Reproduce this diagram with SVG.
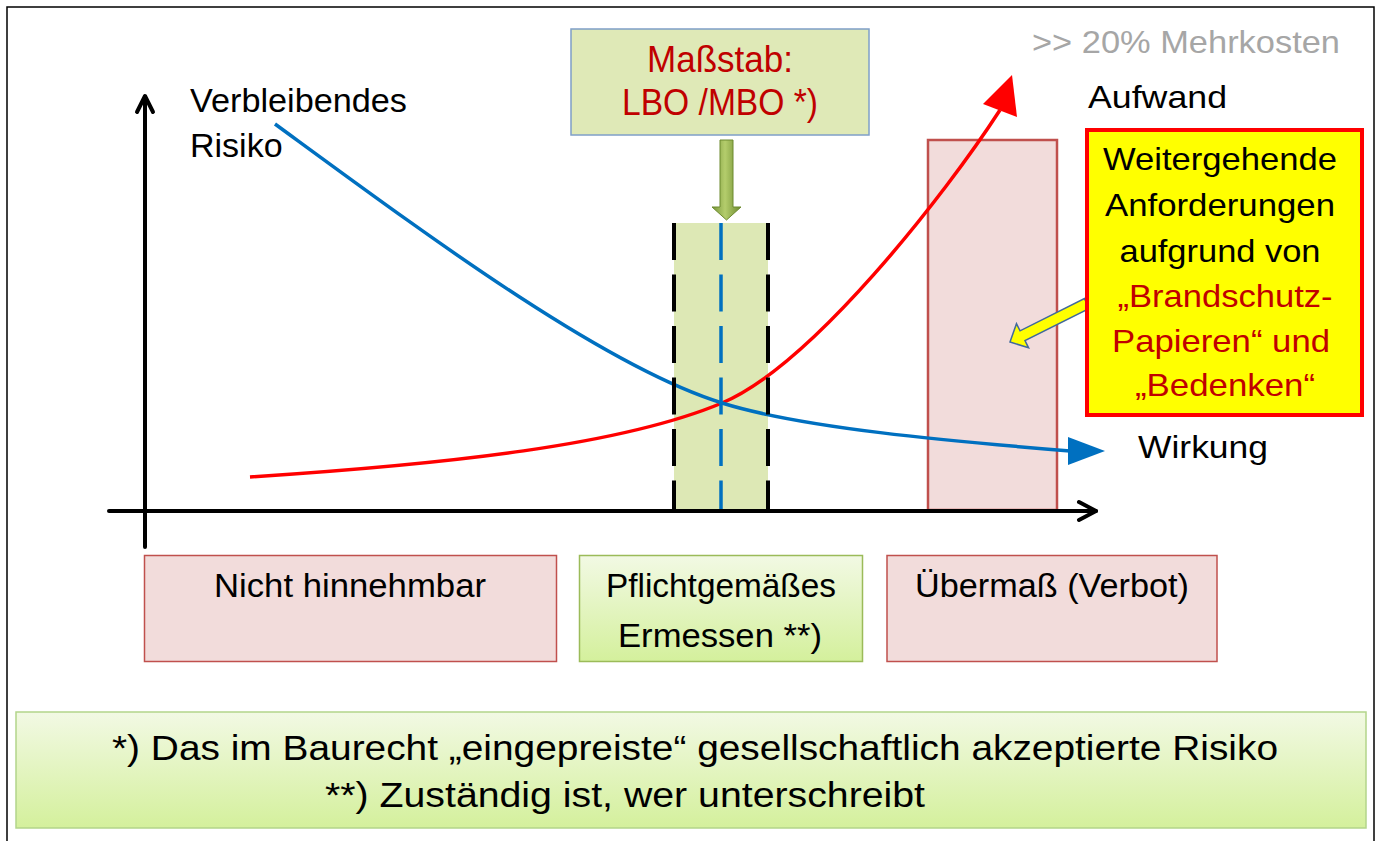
<svg xmlns="http://www.w3.org/2000/svg" width="1379" height="841" viewBox="0 0 1379 841">
<defs>
<style>
.t{font-family:"Liberation Sans",Arial,sans-serif;}
.blk{fill:#000000;}
.red{fill:#c00000;}
.pink{fill:#f2dcdb;stroke:#c0504d;}
.axis{stroke:#000;stroke-width:4;fill:none;stroke-linecap:round;stroke-linejoin:round;}
.dashb{stroke:#000;stroke-width:4;stroke-dasharray:37 14.5;fill:none;}
.dashc{stroke:#0070c0;stroke-width:3.5;stroke-dasharray:37 14.5;fill:none;}
</style>
<linearGradient id="gGreen" x1="0" y1="0" x2="0" y2="1">
<stop offset="0" stop-color="#f2f9e4"/>
<stop offset="1" stop-color="#d4f09c"/>
</linearGradient>
<linearGradient id="gArrow" x1="0" y1="0" x2="1" y2="0">
<stop offset="0" stop-color="#77953a"/>
<stop offset="0.45" stop-color="#b4cd6c"/>
<stop offset="1" stop-color="#6c8a2e"/>
</linearGradient>
</defs>

<rect id="frame" x="7" y="7" width="1367" height="845" fill="#ffffff" stroke="#000" stroke-width="1.5"/>

<text id="mehrkosten" class="t" x="1032" y="53" font-size="32" fill="#a6a6a6" textLength="308" lengthAdjust="spacingAndGlyphs">&gt;&gt; 20% Mehrkosten</text>

<g id="uebermass-zone">
<rect class="pink" x="928" y="140" width="129" height="370" stroke-width="2.5"/>
</g>

<g id="column">
<rect x="674" y="223" width="94" height="288" fill="#dde8b5"/>
</g>

<g id="curves">
<path d="M250,477 C450,464 622,445 722,403 C812,365 945,195 1000,110" fill="none" stroke="#ff0000" stroke-width="3.5"/>
<polygon points="1012,75 983,104 1017,117" fill="#ff0000"/>
<path d="M275,124 C420,230 602,366 722,403 C802,428 948,441 1070,451" fill="none" stroke="#0070c0" stroke-width="3.5"/>
<polygon points="1105,451 1068,437 1068,465" fill="#0070c0"/>
</g>

<g id="column-lines">
<line class="dashb" x1="674" y1="223" x2="674" y2="510"/>
<line class="dashb" x1="768" y1="223" x2="768" y2="510"/>
<line class="dashc" x1="721" y1="223" x2="721" y2="510"/>
</g>

<g id="axes">
<line class="axis" x1="109" y1="511" x2="1096" y2="511"/>
<polyline class="axis" points="1079,502 1096,511 1079,520"/>
<line class="axis" x1="145" y1="547" x2="145" y2="97"/>
<polyline class="axis" points="137,112 145,96 153,112"/>
</g>

<g id="labels">
<text class="t blk" x="190" y="112" font-size="34" textLength="217" lengthAdjust="spacingAndGlyphs">Verbleibendes</text>
<text class="t blk" x="190" y="157" font-size="34">Risiko</text>
<text class="t blk" x="1088" y="108" font-size="32" textLength="139" lengthAdjust="spacingAndGlyphs">Aufwand</text>
<text class="t blk" x="1138" y="458" font-size="32" textLength="130" lengthAdjust="spacingAndGlyphs">Wirkung</text>
</g>

<g id="massstab">
<rect x="571" y="29" width="298" height="106" fill="#dfe9b7" stroke="#7f9fc8" stroke-width="1.5"/>
<text class="t red" x="720" y="72" font-size="36" text-anchor="middle" textLength="146" lengthAdjust="spacingAndGlyphs">Maßstab:</text>
<text class="t red" x="720" y="115" font-size="36" text-anchor="middle" textLength="196" lengthAdjust="spacingAndGlyphs">LBO /MBO *)</text>
</g>

<g id="green-arrow">
<polygon points="720,140 733,140 733,207 741,207 726.5,220 712,207 720,207" fill="url(#gArrow)" stroke="#6c8a2e" stroke-width="1"/>
</g>

<g id="yellow-arrow">
<polygon transform="translate(1010,342) rotate(-26.6)" points="0,0 14,-13.5 14,-5.5 86,-5.5 86,5.5 14,5.5 14,13.5" fill="#ffff00" stroke="#40699c" stroke-width="1.5" stroke-linejoin="miter"/>
</g>

<g id="anforderungen">
<rect x="1087" y="130" width="275" height="285" fill="#ffff00" stroke="#ff0000" stroke-width="4"/>
<text class="t blk" x="1220" y="170" font-size="32" text-anchor="middle" textLength="234" lengthAdjust="spacingAndGlyphs">Weitergehende</text>
<text class="t blk" x="1220" y="216" font-size="32" text-anchor="middle" textLength="230" lengthAdjust="spacingAndGlyphs">Anforderungen</text>
<text class="t blk" x="1220" y="262" font-size="32" text-anchor="middle" textLength="201" lengthAdjust="spacingAndGlyphs">aufgrund von</text>
<text class="t red" x="1225" y="307" font-size="32" text-anchor="middle" textLength="215" lengthAdjust="spacingAndGlyphs">„Brandschutz-</text>
<text class="t red" x="1221" y="352" font-size="32" text-anchor="middle" textLength="218" lengthAdjust="spacingAndGlyphs">Papieren“ und</text>
<text class="t red" x="1225" y="396" font-size="32" text-anchor="middle" textLength="180" lengthAdjust="spacingAndGlyphs">„Bedenken“</text>
</g>

<g id="nicht-hinnehmbar">
<rect class="pink" x="144.5" y="555.5" width="412" height="106" stroke-width="1.5"/>
<text class="t blk" x="350" y="597" font-size="33" text-anchor="middle" textLength="272" lengthAdjust="spacingAndGlyphs">Nicht hinnehmbar</text>
</g>

<g id="pflicht">
<rect x="579.5" y="555.5" width="283" height="106" fill="url(#gGreen)" stroke="#9bbb59" stroke-width="1.5"/>
<text class="t blk" x="721" y="597" font-size="33" text-anchor="middle" textLength="230" lengthAdjust="spacingAndGlyphs">Pflichtgemäßes</text>
<text class="t blk" x="720" y="647" font-size="33" text-anchor="middle" textLength="204" lengthAdjust="spacingAndGlyphs">Ermessen **)</text>
</g>

<g id="uebermass">
<rect class="pink" x="887" y="555.5" width="330" height="106" stroke-width="1.5"/>
<text class="t blk" x="1052" y="597" font-size="33" text-anchor="middle" textLength="274" lengthAdjust="spacingAndGlyphs">Übermaß (Verbot)</text>
</g>

<g id="footnote">
<rect x="16" y="712" width="1350" height="116" fill="url(#gGreen)" stroke="#b3d58a" stroke-width="1.5"/>
<text class="t blk" x="112" y="760" font-size="35" textLength="1166" lengthAdjust="spacingAndGlyphs">*) Das im Baurecht „eingepreiste“ gesellschaftlich akzeptierte Risiko</text>
<text class="t blk" x="325" y="807" font-size="35" textLength="600" lengthAdjust="spacingAndGlyphs">**) Zuständig ist, wer unterschreibt</text>
</g>
</svg>
